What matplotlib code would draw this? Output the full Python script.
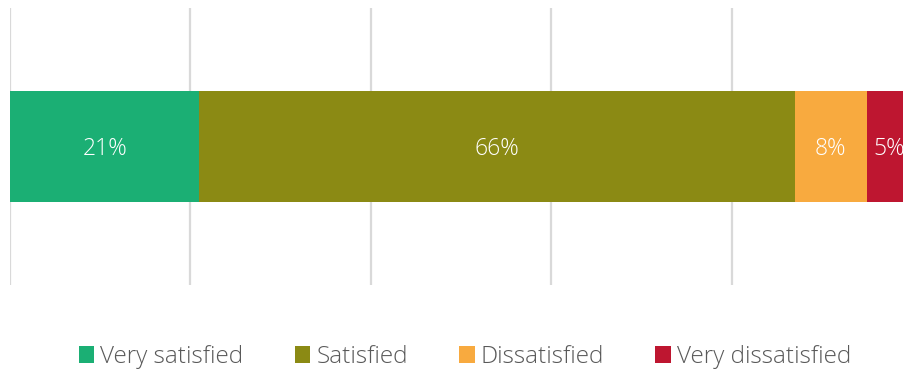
import matplotlib
matplotlib.use("Agg")
import matplotlib.pyplot as plt
from matplotlib.patches import Patch

# survey response shares (percent)
categories = ["Very satisfied", "Satisfied", "Dissatisfied", "Very dissatisfied"]
shares = [21, 66, 8, 5]
colors = ["#1BAF74", "#8B8A14", "#F8AA3F", "#BE1630"]

plt.rcParams["font.family"] = ["Open Sans", "DejaVu Sans"]

fig = plt.figure(figsize=(9.04, 3.72), dpi=100)
ax = fig.add_axes([10 / 904, 87 / 372, 902 / 904, 277 / 372])

left = 0
for name, val, col in zip(categories, shares, colors):
    ax.barh(0, val, left=left, height=0.4, color=col, label=name, zorder=3)
    ax.text(left + val / 2, -0.01, "%d%%" % val, ha="center", va="center",
            color="white", fontsize=16.5, fontweight="light", zorder=4)
    left += val

ax.set_xlim(0, 100)
ax.set_ylim(-0.5, 0.5)
ax.set_xticks(range(0, 101, 20))
ax.grid(axis="x", color="#D9D9D9", linewidth=1.6, zorder=0)
ax.tick_params(left=False, bottom=False, labelleft=False, labelbottom=False)
for s in ax.spines.values():
    s.set_visible(False)

handles = [Patch(facecolor=c, label=n) for n, c in zip(categories, colors)]
fig.legend(handles=handles, loc="center", bbox_to_anchor=(465 / 904, 1 - 357 / 372),
           ncol=4, frameon=False, handlelength=0.65, handleheight=0.65,
           handletextpad=0.25, columnspacing=2.1, labelcolor="#595959",
           prop={"family": ["Open Sans", "DejaVu Sans"], "weight": "light", "size": 17.5})

fig.savefig("out.png", dpi=100)
